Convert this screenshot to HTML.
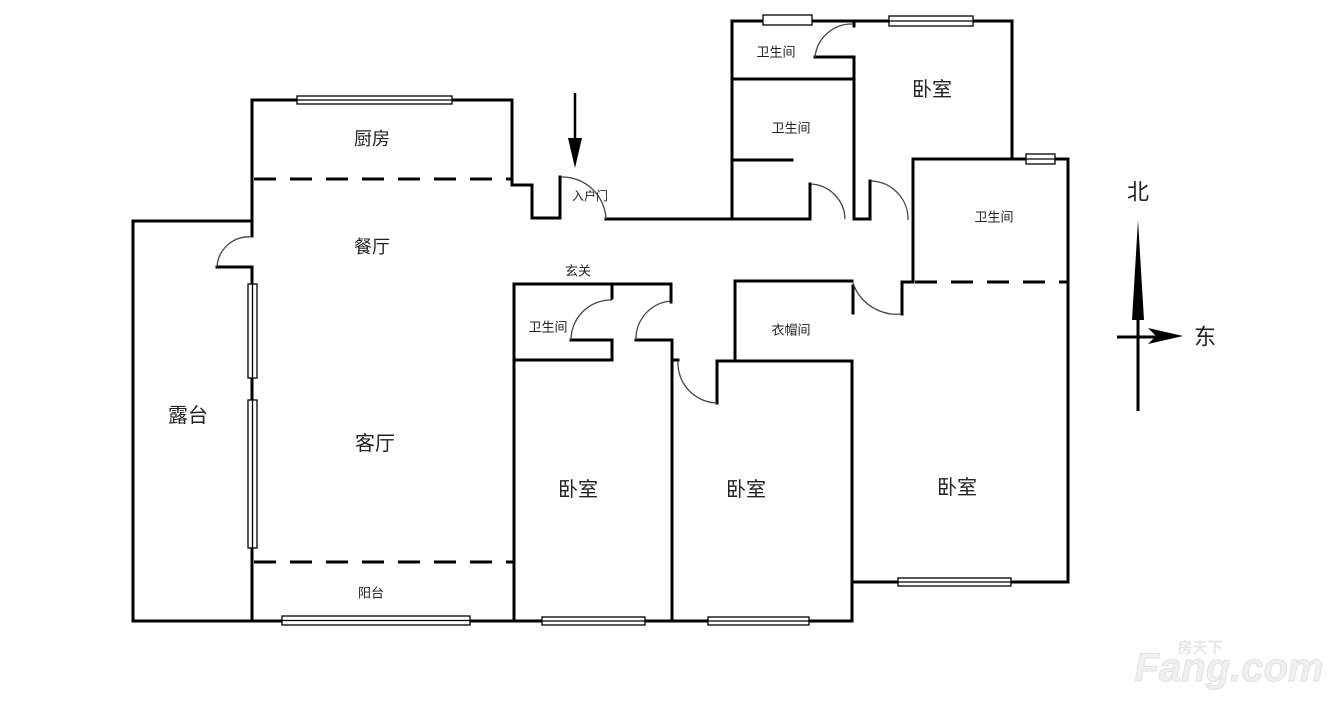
<!DOCTYPE html>
<html><head><meta charset="utf-8"><style>
html,body{margin:0;padding:0;background:#fff;}
svg{display:block;}
text{font-family:"Liberation Sans","Noto Sans CJK SC",sans-serif;fill:#222;text-anchor:middle;dominant-baseline:central;}
</style></head><body>
<svg width="1336" height="708" viewBox="0 0 1336 708" xmlns="http://www.w3.org/2000/svg">
<g stroke="#000" stroke-width="3" fill="none" stroke-linecap="square">
<polyline points="252,221 133,221 133,621 852,621"/>
<line x1="252" y1="100" x2="252" y2="236"/>
<line x1="252" y1="268" x2="252" y2="621"/>
<line x1="217" y1="267" x2="252" y2="267"/>
<polyline points="252,100 512,100 512,185 532,185 532,218 560,218 560,177"/>
<line x1="606" y1="219" x2="732" y2="219"/>
<line x1="514" y1="284" x2="514" y2="621"/>
<line x1="514" y1="284" x2="671" y2="284"/>
<line x1="514" y1="360" x2="612" y2="360"/>
<line x1="612" y1="284" x2="612" y2="298"/>
<polyline points="571,340 612,340 612,360"/>
<line x1="671" y1="284" x2="671" y2="302"/>
<polyline points="636,340 672,340 672,621"/>
<polyline points="672,360 678,360"/>
<polyline points="717,403 717,361 852,361 852,621"/>
<polyline points="735,361 735,281 852,281"/>
<line x1="853" y1="286" x2="853" y2="313"/>
<polyline points="902,314 902,282 913,282"/>
<polyline points="913,282 913,159 1068,159 1068,582 853,582"/>
<polyline points="732,219 732,21 1012,21 1012,159"/>
<line x1="732" y1="79" x2="854" y2="79"/>
<line x1="854" y1="21" x2="854" y2="26"/>
<polyline points="815,57 854,57 854,219 870,219 870,181"/>
<line x1="732" y1="160" x2="792" y2="160"/>
<polyline points="732,219 810,219 810,184"/>
</g>
<g stroke="#000" stroke-width="3" stroke-dasharray="22,14" fill="none">
<line x1="254" y1="179" x2="512" y2="179"/>
<line x1="254" y1="562" x2="514" y2="562"/>
<line x1="915" y1="282" x2="1068" y2="282"/>
</g>
<g stroke="#444" stroke-width="1.3" fill="none">
<path d="M217,267 A32,32 0 0 1 252,237"/>
<path d="M561,177 A44,44 0 0 1 606,219"/>
<path d="M571,340 A40,40 0 0 1 612,300"/>
<path d="M636,340 A38,38 0 0 1 671,301"/>
<path d="M678,361 A40,40 0 0 0 717,403"/>
<path d="M853,283 A46,46 0 0 0 901,314"/>
<path d="M815,57 A37,37 0 0 1 853,24"/>
<path d="M811,184 A36,36 0 0 1 845,219"/>
<path d="M871,181 A38,38 0 0 1 908,220"/>
</g>
<g stroke="#000" stroke-width="1.3" fill="#fff">
<rect x="297" y="96" width="155" height="8"/><line x1="297" y1="100" x2="452" y2="100"/>
<rect x="248" y="284" width="9" height="94"/><line x1="252.5" y1="284" x2="252.5" y2="378"/>
<rect x="248" y="400" width="9" height="148"/><line x1="252.5" y1="400" x2="252.5" y2="548"/>
<rect x="282" y="616" width="188" height="9"/><line x1="282" y1="620.5" x2="470" y2="620.5"/>
<rect x="542" y="617" width="103" height="8"/><line x1="542" y1="621" x2="645" y2="621"/>
<rect x="708" y="617" width="101" height="8"/><line x1="708" y1="621" x2="809" y2="621"/>
<rect x="898" y="578" width="113" height="8"/><line x1="898" y1="582" x2="1011" y2="582"/>
<rect x="1026" y="154" width="29" height="10"/><line x1="1026" y1="159" x2="1055" y2="159"/>
<rect x="763" y="15" width="49" height="10"/>
<rect x="889" y="16" width="84" height="10"/><line x1="889" y1="21" x2="973" y2="21"/>
</g>
<line x1="575" y1="93" x2="575" y2="150" stroke="#000" stroke-width="2.5"/>
<polygon points="568,138 582,138 575,168" fill="#000"/>
<line x1="1138" y1="260" x2="1138" y2="411" stroke="#000" stroke-width="3"/>
<polygon points="1138,220 1132,320 1144,320" fill="#000"/>
<line x1="1117" y1="337" x2="1160" y2="337" stroke="#000" stroke-width="3"/>
<polygon points="1183,336 1148,328 1156,336 1148,344" fill="#000"/>
<text x="1138" y="192" font-size="22">北</text>
<text x="1205" y="337" font-size="22">东</text>
<text x="372" y="139" font-size="18">厨房</text>
<text x="372" y="247" font-size="18">餐厅</text>
<text x="188" y="416" font-size="20">露台</text>
<text x="375" y="444" font-size="20">客厅</text>
<text x="371" y="593" font-size="13">阳台</text>
<text x="578" y="490" font-size="20">卧室</text>
<text x="746" y="490" font-size="20">卧室</text>
<text x="957" y="488" font-size="20">卧室</text>
<text x="932" y="90" font-size="20">卧室</text>
<text x="776" y="52" font-size="13">卫生间</text>
<text x="791" y="128" font-size="13">卫生间</text>
<text x="994" y="217" font-size="13">卫生间</text>
<text x="548" y="327" font-size="13">卫生间</text>
<text x="791" y="330" font-size="13">衣帽间</text>
<text x="578" y="271" font-size="13">玄关</text>
<text x="590" y="196" font-size="12">入户门</text>
<text x="1229" y="668" font-size="40" font-weight="bold" font-style="italic" style="fill:#f0f0f0;stroke:#e2e2e2;stroke-width:1">Fang.com</text>
<text x="1200" y="648" font-size="15" style="fill:#f0f0f0;stroke:#e2e2e2;stroke-width:0.6">房天下</text>
</svg>
</body></html>
